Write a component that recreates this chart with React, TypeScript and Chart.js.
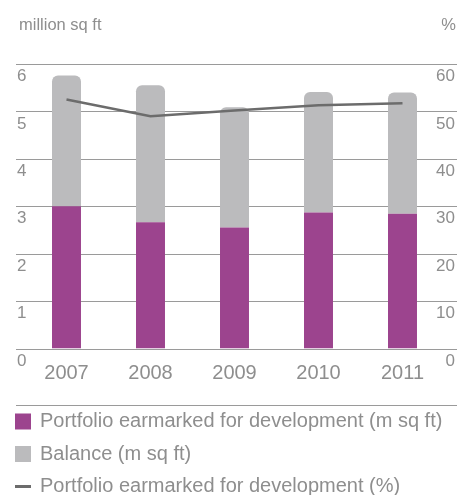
import React, { useEffect, useRef } from "react";
import { Chart, registerables } from "chart.js";

Chart.register(...registerables);

const years = ["2007", "2008", "2009", "2010", "2011"];
const earmarked = [3.0, 2.66, 2.55, 2.87, 2.84];
const balance = [2.76, 2.89, 2.54, 2.54, 2.56];
const earmarkedPct = [52.5, 49.0, 50.2, 51.3, 51.7];
const leftTicks = [0, 1, 2, 3, 4, 5, 6];
const rightTicks = [0, 10, 20, 30, 40, 50, 60];
const seriesNames = [
  "Portfolio earmarked for development (m sq ft)",
  "Balance (m sq ft)",
  "Portfolio earmarked for development (%)",
];
const leftUnit = "million sq ft";
const rightUnit = "%";

const FONT = "'Liberation Sans', Arial, sans-serif";
const TEXT = "#8e8e8e";
const GRID = "#9a9a9a";
const PURPLE = "#9c448e";
const GREY = "#bbbbbd";
const LINE = "#6c6c6c";

const decorPlugin = {
  id: "decor",
  beforeDatasetsDraw(chart: any) {
    const ctx = chart.ctx;
    const y = chart.scales.y;
    ctx.save();
    ctx.strokeStyle = GRID;
    ctx.lineWidth = 1.2;
    leftTicks.forEach((v) => {
      const py = Math.round(y.getPixelForValue(v)) + 0.5;
      ctx.beginPath();
      ctx.moveTo(16, py);
      ctx.lineTo(chart.width, py);
      ctx.stroke();
    });
    ctx.restore();
  },
  afterDraw(chart: any) {
    const ctx = chart.ctx;
    const y = chart.scales.y;
    const y1 = chart.scales.y1;
    ctx.save();
    ctx.fillStyle = TEXT;
    ctx.textBaseline = "middle";

    // axis tick labels (below their gridlines)
    ctx.font = `17px ${FONT}`;
    ctx.textAlign = "left";
    leftTicks.forEach((v) => ctx.fillText(String(v), 17, y.getPixelForValue(v) + 12.5));
    ctx.textAlign = "right";
    rightTicks.forEach((v) => ctx.fillText(String(v), 455, y1.getPixelForValue(v) + 12.5));

    // unit captions
    ctx.font = `16.5px ${FONT}`;
    ctx.textAlign = "left";
    ctx.fillText(leftUnit, 19, 25);
    ctx.textAlign = "right";
    ctx.fillText(rightUnit, 456, 25);

    // separator
    ctx.strokeStyle = GRID;
    ctx.lineWidth = 1.2;
    ctx.beginPath();
    ctx.moveTo(16, 405.5);
    ctx.lineTo(chart.width, 405.5);
    ctx.stroke();

    // legend
    const ds = chart.data.datasets;
    const rows = [421.5, 454, 486.5];
    ctx.font = `20px ${FONT}`;
    ctx.textAlign = "left";
    ds.forEach((d: any, i: number) => {
      const cy = rows[i];
      if (d.type === "line") {
        ctx.fillStyle = d.borderColor;
        ctx.fillRect(15, cy - 1.5, 16, 3);
      } else {
        ctx.fillStyle = d.backgroundColor;
        ctx.fillRect(15, cy - 8, 16, 16);
      }
      ctx.fillStyle = TEXT;
      ctx.fillText(d.label, 40, cy);
    });
    ctx.restore();
  },
};

export default function App() {
  const ref = useRef<HTMLCanvasElement>(null);
  useEffect(() => {
    document.body.style.margin = "0";
    const chart = new Chart(ref.current as HTMLCanvasElement, {
      type: "bar",
      data: {
        labels: years,
        datasets: [
          {
            type: "bar",
            label: seriesNames[0],
            data: earmarked,
            backgroundColor: PURPLE,
            yAxisID: "y",
            stack: "s",
            order: 1,
            categoryPercentage: 1,
            barPercentage: 0.345,
          },
          {
            type: "bar",
            label: seriesNames[1],
            data: balance,
            backgroundColor: GREY,
            yAxisID: "y",
            stack: "s",
            order: 2,
            categoryPercentage: 1,
            barPercentage: 0.345,
            borderRadius: { topLeft: 6, topRight: 6, bottomLeft: 0, bottomRight: 0 },
            borderSkipped: "start",
          },
          {
            type: "line",
            label: seriesNames[2],
            data: earmarkedPct,
            borderColor: LINE,
            backgroundColor: LINE,
            borderWidth: 2.5,
            pointRadius: 0,
            yAxisID: "y1",
            order: 0,
          },
        ] as any,
      },
      plugins: [decorPlugin],
      options: {
        responsive: false,
        animation: false,
        events: [],
        layout: { padding: { left: 24.5, right: 12.5, top: 64, bottom: 96.5 } },
        plugins: { legend: { display: false }, tooltip: { enabled: false } },
        scales: {
          x: {
            grid: { display: false, drawTicks: false },
            border: { display: false },
            ticks: { color: TEXT, font: { family: FONT, size: 20 }, padding: 13 },
          },
          y: {
            display: false,
            position: "left",
            stacked: true,
            min: 0,
            max: 6,
          },
          y1: {
            display: false,
            position: "right",
            min: 0,
            max: 60,
          },
        },
      } as any,
    });
    return () => chart.destroy();
  }, []);
  return (
    <div style={{ width: 457, height: 495 }}>
      <canvas ref={ref} width={457} height={495} style={{ display: "block", width: 457, height: 495 }} />
    </div>
  );
}
